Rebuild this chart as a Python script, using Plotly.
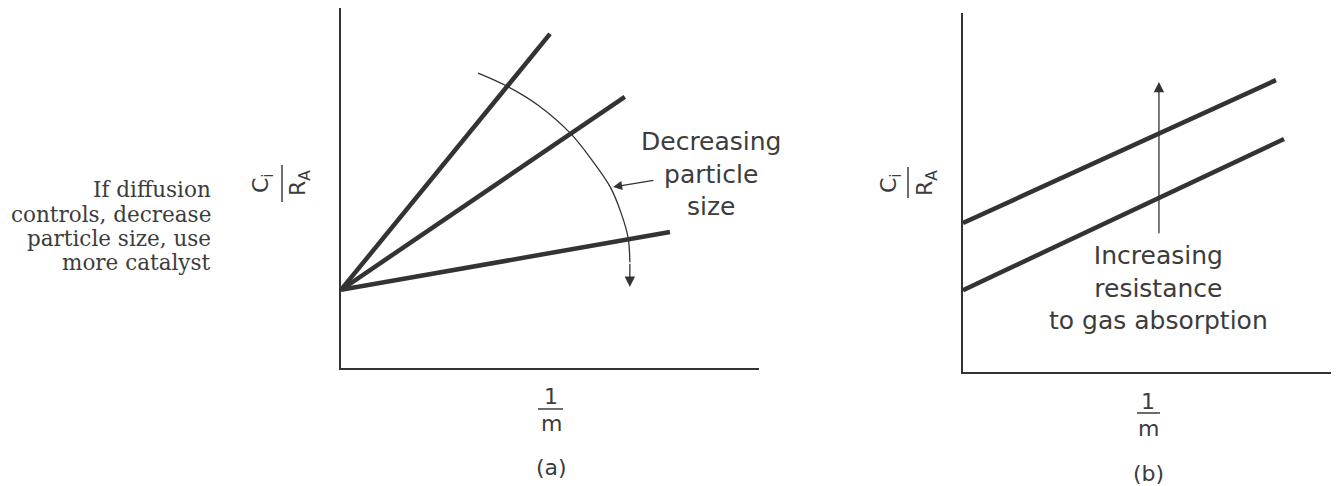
import plotly.graph_objects as go

# page body has an 8px margin, so the figure is drawn 8px in from the corner
OFF = 8
W, H = 1339 - OFF, 486 - OFF

# panel (a): three lines fanning out from a common intercept (axes run 0..10)
a_start_x = [0.0, 0.0, 0.0]
a_start_y = [2.17, 2.17, 2.17]
a_end_x = [5.00, 6.79, 7.87]
a_end_y = [9.28, 7.53, 3.78]

# curved "decreasing particle size" arrow
arc_x = [3.28, 4.00, 4.74, 5.48, 6.00, 6.44, 6.70, 6.87, 6.91]
arc_y = [8.19, 7.81, 7.28, 6.53, 5.78, 5.03, 4.31, 3.61, 2.94]
arc_tip = [6.91, 2.25]
pointer_tail = [7.51, 5.22]
pointer_head = [6.51, 5.03]

# panel (b): two parallel lines
b_start_x = [0.0, 0.0]
b_start_y = [4.15, 2.28]
b_end_x = [8.48, 8.70]
b_end_y = [8.13, 6.49]
b_arrow_x = 5.31
b_arrow_y = [3.82, 8.08]

side_note = ["If diffusion", "controls, decrease", "particle size, use", "more catalyst"]

SANS = "DejaVu Sans ExtraLight, DejaVu Sans"
SERIF = "DejaVu Serif"
INK = "#333333"
TXT = "#3c3c3c"


def px(x):
    return (x - OFF) / W


def py(y):
    return 1 - (y - OFF) / H


def label(text, x, y, font, **kw):
    opts = dict(xanchor="center", yanchor="middle")
    opts.update(kw)
    fig.add_annotation(x=px(x), y=py(y), xref="paper", yref="paper", showarrow=False,
                       text=text, font=font, **opts)


fig = go.Figure()

for x0, y0, x1, y1 in zip(a_start_x, a_start_y, a_end_x, a_end_y):
    fig.add_trace(go.Scatter(x=[x0, x1], y=[y0, y1], mode="lines",
                             line=dict(color=INK, width=4.5), xaxis="x", yaxis="y"))

fig.add_trace(go.Scatter(x=arc_x, y=arc_y, mode="lines",
                         line=dict(color=INK, width=1.3, shape="spline"), xaxis="x", yaxis="y"))

for x0, y0, x1, y1 in zip(b_start_x, b_start_y, b_end_x, b_end_y):
    fig.add_trace(go.Scatter(x=[x0, x1], y=[y0, y1], mode="lines",
                             line=dict(color=INK, width=4.5), xaxis="x2", yaxis="y2"))

# arrowheads
fig.add_annotation(x=arc_tip[0], y=arc_tip[1], ax=arc_x[-1], ay=arc_y[-1],
                   xref="x", yref="y", axref="x", ayref="y", text="", showarrow=True,
                   arrowhead=2, arrowsize=1.6, arrowwidth=1.3, arrowcolor=INK, standoff=0)
fig.add_annotation(x=pointer_head[0], y=pointer_head[1], ax=pointer_tail[0], ay=pointer_tail[1],
                   xref="x", yref="y", axref="x", ayref="y", text="", showarrow=True,
                   arrowhead=2, arrowsize=1.5, arrowwidth=1.2, arrowcolor=INK, standoff=0)
fig.add_annotation(x=b_arrow_x, y=b_arrow_y[1], ax=b_arrow_x, ay=b_arrow_y[0],
                   xref="x2", yref="y2", axref="x2", ayref="y2", text="", showarrow=True,
                   arrowhead=2, arrowsize=1.6, arrowwidth=1.3, arrowcolor=INK, standoff=0)

sans = dict(family=SANS, size=25, color=TXT)
lab = dict(family=SANS, size=22, color=TXT)

label("Decreasing<br>particle<br>size", 711, 174, sans, align="center")
label("Increasing<br>resistance<br>to gas absorption", 1158, 288, sans, align="center")

# serif note on the left, right aligned
for i, line in enumerate(side_note):
    label(line, 213, 190 + 24 * i, dict(family=SERIF, size=21.5, color=TXT), xanchor="right")

# y-axis labels Ci / RA (rotated fractions)
for cx, rx, bar_x, y0, y1 in [(262, 299, 282, 165, 202), (890, 926, 908, 167, 198)]:
    label("C<sub>i</sub>", cx, 183, lab, textangle=-90)
    label("R<sub>A</sub>", rx, 183, lab, textangle=-90)
    fig.add_shape(type="line", xref="paper", yref="paper", x0=px(bar_x), x1=px(bar_x),
                  y0=py(y0), y1=py(y1), line=dict(color=TXT, width=1.5))

# x-axis labels 1/m and panel tags
for cx, one_y, bar_y, m_y, bx0, bx1, tag, tag_y in [
        (551, 396, 409, 423, 538, 563, "(a)", 467),
        (1148, 401, 413, 428, 1137, 1160, "(b)", 473)]:
    label("1", cx, one_y, lab)
    label("m", cx, m_y, lab)
    fig.add_shape(type="line", xref="paper", yref="paper", x0=px(bx0), x1=px(bx1),
                  y0=py(bar_y), y1=py(bar_y), line=dict(color=TXT, width=1.5))
    label(tag, cx, tag_y, lab)

ax_style = dict(range=[0, 10], showgrid=False, zeroline=False, showticklabels=False,
                ticks="", showline=True, linecolor=INK, linewidth=2, fixedrange=True)

fig.update_layout(
    width=W, height=H,
    margin=dict(l=0, r=0, t=0, b=0),
    paper_bgcolor="white", plot_bgcolor="white",
    showlegend=False,
    xaxis=dict(domain=[px(341), px(759)], anchor="y", **ax_style),
    yaxis=dict(domain=[py(368), py(8)], anchor="x", **ax_style),
    xaxis2=dict(domain=[px(963), px(1332)], anchor="y2", **ax_style),
    yaxis2=dict(domain=[py(372), py(13)], anchor="x2", **ax_style),
)

fig.write_html("out.html")
